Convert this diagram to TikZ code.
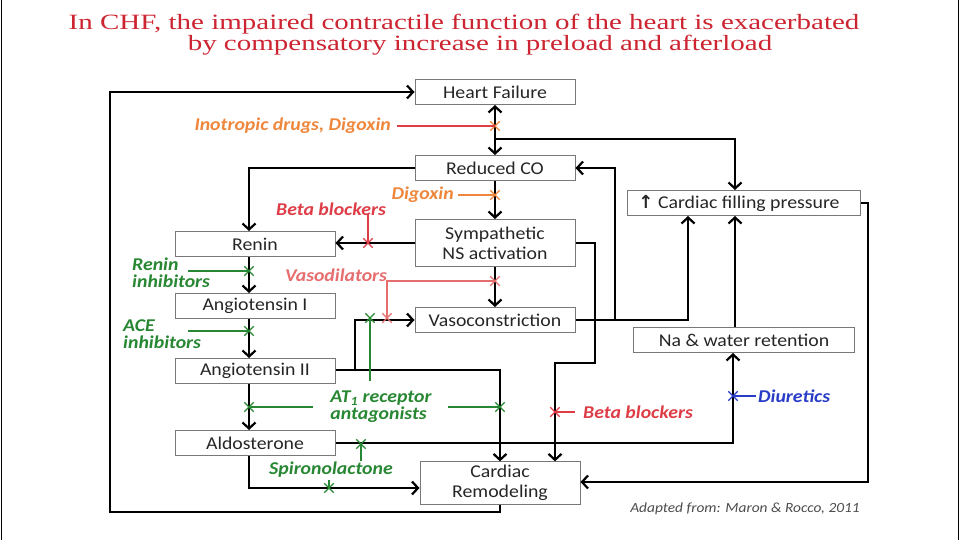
\documentclass[tikz,border=0pt]{standalone}
\usepackage{fontspec}
\setmainfont{Liberation Serif}[FakeStretch=1.33]
\setsansfont{Carlito}[FakeStretch=1.1]
\newfontfamily\arrowfont{DejaVu Sans}
\usetikzlibrary{shapes,arrows.meta,positioning,calc}
\definecolor{titlered}{RGB}{204,36,48}
\definecolor{boxgray}{RGB}{120,120,120}
\definecolor{drugorange}{RGB}{238,135,60}
\definecolor{drugred}{RGB}{222,60,70}
\definecolor{lightred}{RGB}{230,110,110}
\definecolor{druggreen}{RGB}{40,135,50}
\definecolor{drugblue}{RGB}{40,60,200}
\tikzset{
    block/.style = {draw=boxgray, line width=1pt, rectangle, minimum height=25pt, minimum width=160pt, align=center, text=black!85, font=\sffamily\fontsize{18}{20}\selectfont},
    link/.style = {line width=2.2pt, black},
    drug/.style = {font=\sffamily\bfseries\itshape\fontsize{18}{17}\selectfont, align=left, inner sep=0pt},
    drugline/.style = {line width=2pt},
    xmark/.style = {cross out, draw, minimum size=8pt, inner sep=0pt, line width=1.3pt},
}

\begin{document}
\begin{tikzpicture}[x=1pt, y=-1pt, >={Straight Barb[length=6pt,width=13pt]}]
    \useasboundingbox (0,0) rectangle (960,540);
    \draw[line width=1pt] (1,0) -- (1,540);
    \draw[line width=1pt] (958,0) -- (958,540);

    % title
    \node[text=titlered, font=\fontsize{21.8}{22}\selectfont] (title1) at (464,24) {In CHF, the impaired contractile function of the heart is exacerbated};
    \node[text=titlered, font=\fontsize{21.8}{22}\selectfont] (title2) at (480,45) {by compensatory increase in preload and afterload};

    % boxes
    \node[block] (hf) at (495,92) {Heart Failure};
    \node[block] (co) at (495,168) {Reduced CO};
    \node[block, minimum height=47pt] (sns) at (495,243) {Sympathetic\\NS activation};
    \node[block] (renin) at (255,244) {Renin};
    \node[block] (ang1) at (255,306) {Angiotensin I};
    \node[block] (ang2) at (255,371) {Angiotensin II};
    \node[block] (aldo) at (255,443) {Aldosterone};
    \node[block] (vaso) at (495,320) {Vasoconstriction};
    \node[block, minimum height=40pt] (remod) at (500,483) {Cardiac\\Remodeling};
    \node[block, minimum width=233pt] (cfp) at (744,203) {{\arrowfont\bfseries ↑} Cardiac filling pressure\hspace*{10pt}};
    \node[block, minimum width=221pt] (na) at (744,340) {Na \& water retention};

    \coordinate (hfbranch) at (495,139);
    \coordinate (loopbl) at (110,512);
    \coordinate (angsplit) at (355,370);
    \coordinate (snsturn) at (595,363);
    \coordinate (vasobranch) at (615,320);
    \coordinate (cfpturn) at (868,482);

    % black connectors
    \draw[link, ->] (remod.south) |- (loopbl) |- (hf.west);
    \draw[link, <->] (hf) -- (co);
    \draw[link, ->] (hfbranch) -| ([xshift=-9pt]cfp.north);
    \draw[link, ->] (co.west) -| ([xshift=-6pt]renin.north);
    \draw[link, ->] (co) -- (sns);
    \draw[link, ->] (sns.west) -- (sns.west -| renin.east);
    \draw[link, ->] ([xshift=-6pt]renin.south) -- ([xshift=-6pt]ang1.north);
    \draw[link, ->] (sns) -- (vaso);
    \draw[link, ->] ([xshift=-6pt]ang1.south) -- ([xshift=-6pt]ang2.north);
    \draw[link, ->] (ang2.east |- angsplit) -- (angsplit) |- (vaso.west);
    \draw[link, ->] (angsplit) -| (remod.north);
    \draw[link, ->] ([xshift=-6pt]ang2.south) -- ([xshift=-6pt]aldo.north);
    \draw[link, ->] (aldo.east) -| ([xshift=-11pt]na.south);
    \draw[link, ->] ([xshift=-6pt]aldo.south) |- ([yshift=-5pt]remod.west);
    \draw[link, ->] (sns.east) -| (snsturn) -| ([xshift=55pt]remod.north);
    \draw[link, ->] (vaso.east) -| ([xshift=-56pt]cfp.south);
    \draw[link, ->] (vasobranch) |- (co.east);
    \draw[link, ->] ([xshift=-9pt]na.north) -- ([xshift=-9pt]cfp.south);
    \draw[link, ->] (cfp.east) -| (cfpturn) -- (remod.east |- cfpturn);

    % drugs
    \node[drug, text=drugorange, anchor=east] (ino) at (391,126) {Inotropic drugs, Digoxin};
    \node[xmark, draw=drugorange] (inox) at (495,126) {};
    \draw[drugline, drugred] ([xshift=6pt]ino.east) -- (inox.center);

    \node[drug, text=drugorange, anchor=east] (dig) at (454,195) {Digoxin};
    \node[xmark, draw=drugorange] (digx) at (495,195) {};
    \draw[drugline, drugorange] ([xshift=4pt]dig.east) -- (digx.center);

    \node[drug, text=drugred] (bb1) at (331,209) {Beta blockers};
    \node[xmark, draw=drugred] (bb1x) at (368,243) {};
    \draw[drugline, drugred] (bb1x |- bb1.south) ++(0,-2) -- (bb1x.center);

    \node[drug, text=druggreen, anchor=west] (reninh) at (132,273) {Renin\\inhibitors};
    \node[xmark, draw=druggreen] (reninx) at (249,271) {};
    \draw[drugline, druggreen] (188,271) -- (reninx.center);

    \node[drug, text=lightred] (vasod) at (336,275) {Vasodilators};
    \node[xmark, draw=lightred] (vasodx1) at (495,281) {};
    \node[xmark, draw=lightred] (vasodx2) at (387,318) {};
    \draw[drugline, lightred] (vasodx2.center) |- (vasodx1.center);

    \node[drug, text=druggreen, anchor=west] (ace) at (123,334) {ACE\\inhibitors};
    \node[xmark, draw=druggreen] (acex) at (249,331) {};
    \draw[drugline, druggreen] (188,331) -- (acex.center);

    \node[drug, text=druggreen] (at1) at (381,407) {AT\textsubscript{1} receptor\\ antagonists};
    \node[xmark, draw=druggreen] (at1x1) at (370,318) {};
    \node[xmark, draw=druggreen] (at1x2) at (249,407) {};
    \node[xmark, draw=druggreen] (at1x3) at (500,407) {};
    \draw[drugline, druggreen] (370,381) -- (at1x1.center);
    \draw[drugline, druggreen] (313,407) -- (at1x2.center);
    \draw[drugline, druggreen] (448,407) -- (at1x3.center);

    \node[drug, text=druggreen] (spiro) at (331,470) {Spironolactone};
    \node[xmark, draw=druggreen] (spirox1) at (361,444) {};
    \node[xmark, draw=druggreen] (spirox2) at (329,488) {};
    \draw[drugline, druggreen] (361,461) -- (spirox1.center);
    \draw[drugline, druggreen] (329,480) -- (spirox2.center);

    \node[drug, text=drugred, anchor=west] (bb2) at (583,412) {Beta blockers};
    \node[xmark, draw=drugred] (bb2x) at (555,412) {};
    \draw[drugline, drugred] (bb2x.center) -- (575,412);

    \node[drug, text=drugblue, anchor=west] (diu) at (758,396) {Diuretics};
    \node[xmark, draw=drugblue] (diux) at (733,396) {};
    \draw[drugline, drugblue] (diux.center) -- (756,396);

    \node[font=\sffamily\itshape\fontsize{14}{14}\selectfont, text=black!70] (src) at (745,509) {Adapted from: Maron \& Rocco, 2011};
\end{tikzpicture}
\end{document}
